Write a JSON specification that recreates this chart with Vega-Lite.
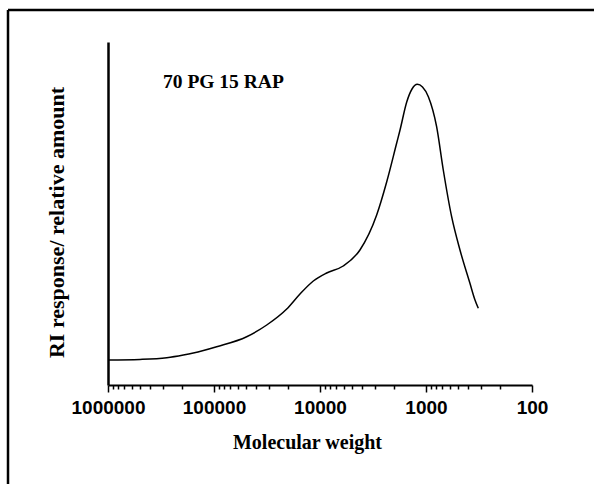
{
  "$schema": "https://vega.github.io/schema/vega-lite/v6.json",
  "width": 424,
  "height": 343,
  "autosize": {"type": "none"},
  "padding": {"left": 108, "top": 42, "right": 62, "bottom": 99},
  "background": "white",
  "config": {"view": {"stroke": null}},
  "layer": [
    {
      "data": {"values": [{"mw": 1000000, "ri": 25}, {"mw": 499000, "ri": 25.6}, {"mw": 279000, "ri": 27.3}, {"mw": 194500, "ri": 30}, {"mw": 156700, "ri": 32}, {"mw": 94400, "ri": 38.3}, {"mw": 49200, "ri": 48.3}, {"mw": 31800, "ri": 60}, {"mw": 20600, "ri": 76}, {"mw": 15450, "ri": 91}, {"mw": 11560, "ri": 104}, {"mw": 8650, "ri": 112}, {"mw": 6040, "ri": 119}, {"mw": 4200, "ri": 135}, {"mw": 2920, "ri": 170}, {"mw": 2350, "ri": 203}, {"mw": 1890, "ri": 242}, {"mw": 1758, "ri": 255}, {"mw": 1520, "ri": 283}, {"mw": 1355, "ri": 296}, {"mw": 1208, "ri": 300.7}, {"mw": 1079, "ri": 298}, {"mw": 950, "ri": 288.3}, {"mw": 794, "ri": 258.3}, {"mw": 687, "ri": 215}, {"mw": 573, "ri": 168.3}, {"mw": 478, "ri": 135}, {"mw": 385, "ri": 101.7}, {"mw": 345, "ri": 85}, {"mw": 321, "ri": 76.7}]},
      "mark": {"type": "line", "color": "black", "strokeWidth": 1.5, "interpolate": "monotone"},
      "encoding": {
        "order": {"field": "mw", "sort": "descending"},
        "x": {
          "field": "mw",
          "type": "quantitative",
          "scale": {"type": "log", "domain": [100, 1000000], "reverse": true, "nice": false},
          "axis": {
            "title": "Molecular weight",
            "titleFont": "Liberation Serif",
            "titleFontSize": 20,
            "titleFontWeight": "bold",
            "titleColor": "black",
            "titlePadding": 15,
            "titleX": 199,
            "values": [1000000, 900000, 800000, 700000, 600000, 500000, 400000, 300000, 200000, 100000, 90000, 80000, 70000, 60000, 50000, 40000, 30000, 20000, 10000, 9000, 8000, 7000, 6000, 5000, 4000, 3000, 2000, 1000, 900, 800, 700, 600, 500, 400, 300, 200, 100],
            "labelExpr": "abs(log(datum.value)/LN10 - round(log(datum.value)/LN10)) < 0.01 ? format(datum.value, 'd') : ''",
            "labelFont": "Liberation Sans",
            "labelFontSize": 19,
            "labelFontWeight": "bold",
            "labelColor": "black",
            "labelPadding": 6,
            "labelOverlap": false,
            "labelFlush": false,
            "tickSize": {"condition": {"test": "abs(log(datum.value)/LN10 - round(log(datum.value)/LN10)) < 0.01", "value": 7}, "value": 4},
            "tickColor": "black",
            "tickWidth": 1.5,
            "domainColor": "black",
            "domainWidth": 2,
            "grid": false
          }
        },
        "y": {
          "field": "ri",
          "type": "quantitative",
          "scale": {"domain": [0, 343], "nice": false, "zero": false},
          "axis": {
            "title": "RI response/ relative amount",
            "titleFont": "Liberation Serif",
            "titleFontSize": 22,
            "titleFontWeight": "bold",
            "titleColor": "black",
            "titlePadding": 40,
            "titleY": 180,
            "ticks": false,
            "labels": false,
            "grid": false,
            "domainColor": "black",
            "domainWidth": 2.5
          }
        }
      }
    },
    {
      "data": {"values": [{}]},
      "mark": {"type": "text", "font": "Liberation Serif", "fontWeight": "bold", "fontSize": 19.5, "align": "left", "baseline": "alphabetic", "color": "black"},
      "encoding": {
        "x": {"datum": 302700, "type": "quantitative"},
        "y": {"datum": 297, "type": "quantitative"},
        "text": {"value": "70 PG 15 RAP"}
      }
    },
    {
      "data": {"values": [{}]},
      "mark": {"type": "rule", "clip": false, "color": "black", "strokeWidth": 2.5},
      "encoding": {
        "x": {"datum": 8777000, "type": "quantitative"},
        "y": {"datum": 375, "type": "quantitative"},
        "y2": {"datum": -300}
      }
    },
    {
      "data": {"values": [{}]},
      "mark": {"type": "rule", "clip": false, "color": "black", "strokeWidth": 2.5},
      "encoding": {
        "x": {"datum": 8777000, "type": "quantitative"},
        "x2": {"datum": 2},
        "y": {"datum": 375, "type": "quantitative"}
      }
    }
  ]
}
